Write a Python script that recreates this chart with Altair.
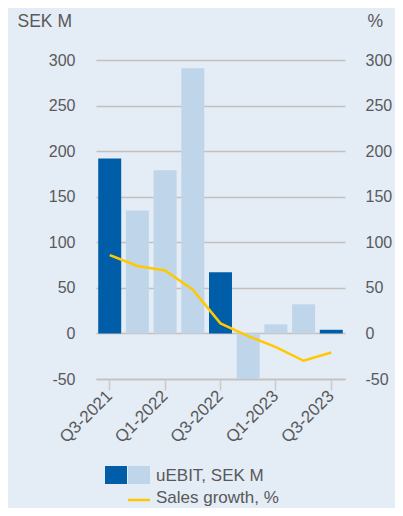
import altair as alt
import pandas as pd

quarters = ["Q3-2021", "Q4-2021", "Q1-2022", "Q2-2022", "Q3-2022",
            "Q4-2022", "Q1-2023", "Q2-2023", "Q3-2023"]
uebit = [192, 135, 179, 291, 67, -50, 10, 32, 4]
sales_growth = [86, 74, 69, 48, 11, -3, -15, -30, -21]
shown_labels = ["Q3-2021", "Q1-2022", "Q3-2022", "Q1-2023", "Q3-2023"]
y_ticks = [-50, 0, 50, 100, 150, 200, 250, 300]

DARK = "#005EA8"
LIGHT = "#BFD6EA"
YELLOW = "#FFC800"
BG = "#E4ECF6"
GRID = "#C4C0BB"
TEXT = "#595959"
FONT = "Liberation Sans"

df = pd.DataFrame({
    "quarter": quarters,
    "uebit": uebit,
    "growth": sales_growth,
})
df["kind"] = ["Q3" if q.startswith("Q3") else "other" for q in quarters]

W, H = 249, 319
ydom = alt.Scale(domain=[-50, 300], nice=False, zero=False)

xenc = alt.X(
    "quarter:N", sort=quarters, title=None,
    scale=alt.Scale(paddingInner=0.17, paddingOuter=0.08),
    axis=alt.Axis(values=shown_labels, labelAngle=-45, labelAlign="right",
                  labelBaseline="middle", labelPadding=3, tickSize=11,
                  tickColor="#CFCAC5", tickWidth=1.5, domainColor=GRID,
                  domainWidth=1.5, labelFontSize=17, labelColor=TEXT,
                  labelFont=FONT, grid=False),
)

bars = alt.Chart(df).mark_bar().encode(
    x=xenc,
    y=alt.Y("uebit:Q", scale=ydom,
            axis=alt.Axis(values=y_ticks, title="SEK M", titleAngle=0,
                          titleX=-79, titleY=-34, titleAlign="left",
                          titleBaseline="alphabetic", titleFontSize=17.5,
                          titleFontWeight="normal", titleColor=TEXT,
                          titleFont=FONT, labelFontSize=16, labelColor=TEXT,
                          labelFont=FONT, labelPadding=21, ticks=False,
                          labelExpr="'' + datum.value",
                          domain=False, grid=True, gridColor=GRID,
                          gridWidth=1.5)),
    color=alt.Color("kind:N", scale=alt.Scale(domain=["Q3", "other"],
                                              range=[DARK, LIGHT]),
                    legend=None),
)

line = alt.Chart(df).mark_line(color=YELLOW, strokeWidth=2.5).encode(
    x=alt.X("quarter:N", sort=quarters),
    y=alt.Y("growth:Q", scale=ydom,
            axis=alt.Axis(values=y_ticks, title="%", titleAngle=0,
                          titleX=22, titleY=-34, titleAlign="left",
                          titleBaseline="alphabetic", titleFontSize=17.5,
                          titleFontWeight="normal", titleColor=TEXT,
                          titleFont=FONT, labelFontSize=16, labelColor=TEXT,
                          labelFont=FONT, labelPadding=20, ticks=False,
                          labelExpr="'' + datum.value",
                          domain=False, grid=False, orient="right")),
)

# Legend (decoration)
leg_dark = alt.Chart().mark_rect(color=DARK).encode(
    x=alt.value(9), x2=alt.value(31), y=alt.value(406), y2=alt.value(424))
leg_light = alt.Chart().mark_rect(color=LIGHT).encode(
    x=alt.value(32), x2=alt.value(54), y=alt.value(406), y2=alt.value(424))
leg_line = alt.Chart().mark_rule(color=YELLOW, strokeWidth=2.5).encode(
    x=alt.value(32), x2=alt.value(54), y=alt.value(440))
leg_t1 = alt.Chart().mark_text(text="uEBIT, SEK M", align="left",
                               baseline="middle", fontSize=17, color=TEXT,
                               font=FONT).encode(x=alt.value(60), y=alt.value(416))
leg_t2 = alt.Chart().mark_text(text="Sales growth, %", align="left",
                               baseline="middle", fontSize=17, color=TEXT,
                               font=FONT).encode(x=alt.value(60), y=alt.value(438))

chart = alt.layer(
    alt.layer(bars, line).resolve_scale(y="independent"),
    leg_dark, leg_light, leg_line, leg_t1, leg_t2,
).properties(
    width=W, height=H,
    autosize=alt.AutoSizeParams(type="none"),
    padding={"left": 88, "top": 52, "right": 50, "bottom": 129},
).configure(background=BG).configure_view(stroke=None)

chart.save("out.html", embed_options={"renderer": "svg", "actions": False})
